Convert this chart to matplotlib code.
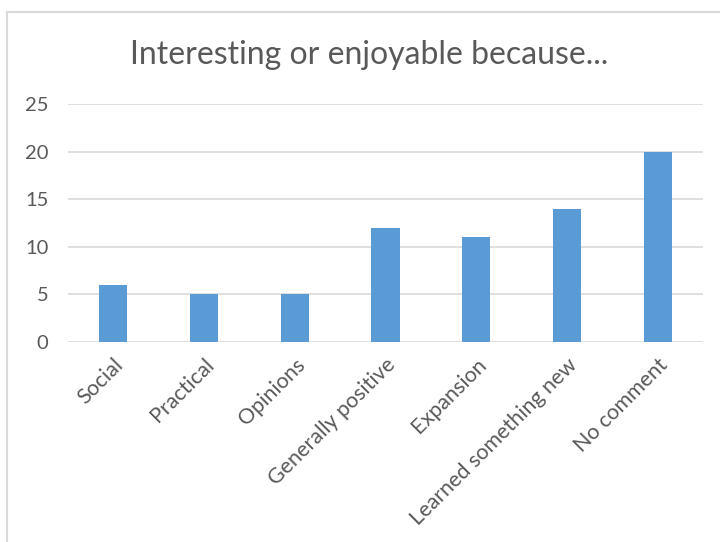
import matplotlib
matplotlib.use("Agg")
import matplotlib.pyplot as plt
from matplotlib.lines import Line2D

CATEGORIES = ["Social", "Practical", "Opinions", "Generally positive",
              "Expansion", "Learned something new", "No comment"]
COUNTS = [6, 5, 5, 12, 11, 14, 20]
Y_TICKS = [0, 5, 10, 15, 20, 25]

BAR_COLOR = "#5B9BD5"
GRID_COLOR = "#D9D9D9"
TEXT_COLOR = "#595959"

plt.rcParams['font.family'] = ['Lato', 'DejaVu Sans']

fig = plt.figure(figsize=(7.2, 5.42), dpi=100)
W, H = 720.0, 542.0

# axes placed in pixel terms of the reference
ax = fig.add_axes([68 / W, 1 - 342 / H, (703 - 68) / W, (342 - 104) / H])

x = range(len(CATEGORIES))
ax.bar(x, COUNTS, width=0.31, color=BAR_COLOR, zorder=3)
ax.set_xlim(-0.5, len(CATEGORIES) - 0.5)
ax.set_ylim(0, 25)
ax.set_yticks(Y_TICKS)
ax.yaxis.grid(True, color=GRID_COLOR, lw=1.2, zorder=0)
for s in ax.spines.values():
    s.set_visible(False)
ax.tick_params(axis='both', length=0, colors=TEXT_COLOR)
ax.tick_params(axis='y', pad=14, labelsize=14.5)
ax.tick_params(axis='x', pad=9, labelsize=15.5)
ax.set_xticks(list(x))
ax.set_xticklabels(CATEGORIES, rotation=45, ha='right', rotation_mode='anchor')

fig.text(369 / W, 1 - 55 / H, "Interesting or enjoyable because...",
         ha='center', va='center', fontsize=23, color=TEXT_COLOR)

# chart-area border (cropped on right and bottom)
fig.add_artist(Line2D([7 / W, 7 / W], [0, 1 - 12 / H], transform=fig.transFigure,
                      color=GRID_COLOR, lw=1.5))
fig.add_artist(Line2D([7 / W, 1], [1 - 12 / H, 1 - 12 / H], transform=fig.transFigure,
                      color=GRID_COLOR, lw=1.5))

fig.savefig("out.png", dpi=100)
